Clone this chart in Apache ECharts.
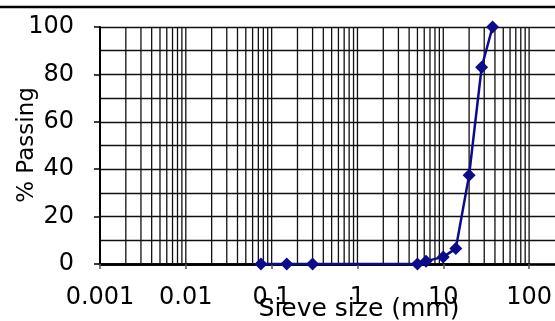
<!DOCTYPE html>
<html>
<head>
<meta charset="utf-8">
<script src="https://cdn.jsdelivr.net/npm/echarts@6/dist/echarts.min.js"></script>
<style>
  html, body { margin: 0; padding: 0; background: #fff; }
  #chart { width: 555px; height: 321px; }
</style>
</head>
<body>
<div id="chart"></div>
<script>
// sieve sizes (mm) and % passing
const sieveSize = [0.075, 0.15, 0.3, 5, 6.3, 10, 14, 20, 28, 37.5]
const passing = [0, 0, 0, 0, 1.2, 3, 6.5, 37.5, 83, 100]
const xMin = 0.001, xMax = 100

// log grid lines 2..9 of every decade + the decades themselves
let logLines = []
for (let e = -3; e < 2; e++) {
  for (let k = 2; k <= 10; k++) logLines.push(+(k * Math.pow(10, e)).toPrecision(6))
}

const chart = echarts.init(document.getElementById('chart'))
const font = '"DejaVu Sans", Arial, sans-serif'

let option = {
  animation: false,
  grid: [
    // horizontal lines, run on to the right edge
    {left: 100, top: 27, right: -5, bottom: 57},
    // the plot itself
    {left: 100, top: 27, right: 22, bottom: 57}
  ],
  xAxis: [
    {
      gridIndex: 0, type: 'value', min: 0, max: 1,
      axisLabel: {show: false}, axisTick: {show: false}, splitLine: {show: false},
      axisLine: {show: true, lineStyle: {color: '#000', width: 2.5}}
    },
    {
      gridIndex: 1, type: 'log', logBase: 10, min: xMin, max: xMax,
      axisLine: {show: true, onZero: false, lineStyle: {color: '#000', width: 2.5}},
      axisTick: {show: true, length: 5, lineStyle: {color: '#555', width: 1.5}},
      splitLine: {show: false},
      minorTick: {show: false},
      axisLabel: {
        color: '#000', fontSize: 24, fontFamily: font, margin: 22,
        formatter: v => String(Number(v.toPrecision(6)))
      }
    }
  ],
  yAxis: [
    {
      gridIndex: 0, type: 'value', min: 0, max: 100, interval: 10,
      axisLabel: {show: false}, axisTick: {show: false}, axisLine: {show: false},
      splitLine: {show: true, lineStyle: {color: '#111', width: 1.4}}
    },
    {
      gridIndex: 1, type: 'value', min: 0, max: 100, interval: 20,
      axisLine: {show: true, lineStyle: {color: '#000', width: 2}},
      axisTick: {show: true, length: 6, lineStyle: {color: '#000', width: 1.5}},
      splitLine: {show: false},
      axisLabel: {color: '#000', fontSize: 24, fontFamily: font, margin: 26}
    }
  ],
  graphic: [
    {
      type: 'text', left: 22, top: -23, silent: true,
      style: {
        text: 'Figure 4: Particle size distribution analysis of gravel',
        font: 'italic bold 21px "Liberation Serif", serif', fill: '#000'
      }
    },
    {
      type: 'line', silent: true,
      shape: {x1: 0, y1: 7, x2: 555, y2: 7},
      style: {stroke: '#000', lineWidth: 2.5}
    },
    {
      type: 'text', x: 27, y: 145, rotation: Math.PI / 2, silent: true,
      style: {
        text: '% Passing', font: '23px ' + font, fill: '#000',
        textAlign: 'center', textVerticalAlign: 'middle'
      }
    },
    {
      type: 'text', x: 359, y: 309, silent: true,
      style: {
        text: 'Sieve size (mm)', font: '25px ' + font, fill: '#000',
        textAlign: 'center', textVerticalAlign: 'middle'
      }
    }
  ],
  series: [
    {
      // vertical log grid, drawn through the axis scale
      name: 'grid', type: 'custom', xAxisIndex: 1, yAxisIndex: 1, z: 1,
      silent: true, clip: false,
      data: logLines.map(v => [v, 0]),
      renderItem: (params, api) => {
        const p0 = api.coord([api.value(0), 0])
        const p1 = api.coord([api.value(0), 100])
        return {
          type: 'line',
          shape: {x1: p0[0], y1: p0[1], x2: p1[0], y2: p1[1]},
          style: {stroke: '#111', lineWidth: 1.3}
        }
      }
    },
    {
      name: 'passing', type: 'line', xAxisIndex: 1, yAxisIndex: 1, z: 5,
      symbol: 'diamond', symbolSize: 13,
      itemStyle: {color: '#0b0b8c'},
      lineStyle: {color: '#0b0b8c', width: 2.5},
      data: sieveSize.map((s, i) => [s, passing[i]])
    }
  ]
}
chart.setOption(option)
</script>
</body>
</html>
